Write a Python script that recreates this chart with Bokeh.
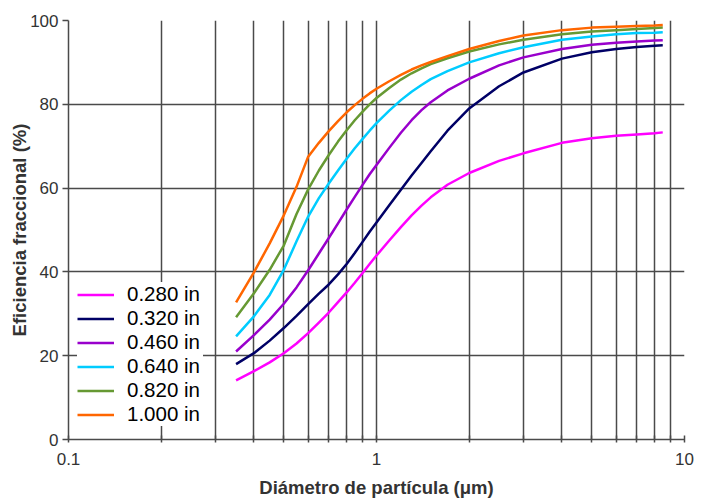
from bokeh.plotting import figure
from bokeh.models import Range1d, FixedTicker, Legend, LegendItem
from bokeh.embed import file_html
from bokeh.resources import INLINE

# ---- data ----
diam = [0.35, 0.4, 0.45, 0.5, 0.55, 0.6, 0.65, 0.7, 0.75, 0.8, 0.85, 0.9, 0.95, 1.0,
        1.1, 1.2, 1.3, 1.4, 1.5, 1.7, 2, 2.5, 3, 4, 5, 6, 7, 8, 8.5]
eff_0280 = [14.1, 16.3, 18.4, 20.6, 22.9, 25.4, 27.9, 30.3, 32.8, 35.1, 37.4, 39.7, 41.9, 43.9,
            47.5, 50.7, 53.5, 55.8, 57.8, 60.8, 63.6, 66.5, 68.3, 70.8, 71.9, 72.5, 72.8, 73.1, 73.3]
eff_0320 = [18.0, 20.6, 23.6, 26.6, 29.5, 32.3, 34.8, 37.0, 39.4, 41.9, 44.5, 47.1, 49.6, 51.8,
            55.9, 59.6, 63.0, 66.0, 68.8, 73.7, 79.0, 84.3, 87.6, 90.9, 92.4, 93.2, 93.7, 94.0, 94.1]
eff_0460 = [21.0, 24.9, 28.6, 32.4, 36.3, 40.4, 44.4, 48.1, 51.6, 54.9, 57.9, 60.7, 63.3, 65.5,
            69.6, 73.2, 76.2, 78.6, 80.5, 83.3, 86.1, 89.3, 91.2, 93.2, 94.2, 94.7, 95.0, 95.2, 95.3]
eff_0640 = [24.6, 29.4, 34.5, 40.5, 47.3, 53.2, 57.6, 61.1, 64.2, 67.0, 69.5, 71.7, 73.7, 75.5,
            78.5, 81.0, 83.0, 84.6, 86.0, 87.9, 90.0, 92.2, 93.6, 95.4, 96.2, 96.7, 97.0, 97.1, 97.2]
eff_0820 = [29.2, 34.9, 40.5, 46.3, 53.8, 59.7, 64.2, 67.9, 71.1, 73.8, 76.2, 78.2, 80.0, 81.5,
            83.9, 85.9, 87.4, 88.6, 89.6, 91.0, 92.6, 94.3, 95.4, 96.7, 97.4, 97.7, 98.0, 98.2, 98.3]
eff_1000 = [32.7, 39.9, 46.8, 53.5, 60.3, 67.5, 70.8, 73.6, 76.0, 78.1, 79.8, 81.3, 82.6, 83.7,
            85.5, 87.0, 88.3, 89.3, 90.1, 91.5, 93.2, 95.1, 96.4, 97.7, 98.3, 98.5, 98.7, 98.8, 98.9]

series_labels = ["0.280 in", "0.320 in", "0.460 in", "0.640 in", "0.820 in", "1.000 in"]
series_values = [eff_0280, eff_0320, eff_0460, eff_0640, eff_0820, eff_1000]
series_colors = ["#FF00FF", "#000066", "#9900CC", "#00CCFF", "#669933", "#FF6600"]

x_major_ticks = [0.1, 1, 10]
x_minor_ticks = [0.2, 0.3, 0.4, 0.5, 0.6, 0.7, 0.8, 0.9, 2, 3, 4, 5, 6, 7, 8, 9]
y_ticks = [0, 20, 40, 60, 80, 100]
x_title = "Diámetro de partícula (μm)"
y_title = "Eficiencia fraccional (%)"

FONT = "Liberation Sans"
GRID = "#4a4a4a"

p = figure(width=714, height=500, x_axis_type="log",
           x_range=Range1d(0.1, 10), y_range=Range1d(0, 100),
           output_backend="svg", toolbar_location=None,
           min_border_left=68, min_border_right=30,
           min_border_top=20, min_border_bottom=60)
p.outline_line_color = None
p.background_fill_color = "white"
p.border_fill_color = "white"

# grids
p.xgrid.ticker = FixedTicker(ticks=x_major_ticks + x_minor_ticks)
p.ygrid.ticker = FixedTicker(ticks=y_ticks)
for g in (p.xgrid, p.ygrid):
    g.grid_line_color = GRID
    g.grid_line_width = 1.5

# x axis
xa = p.xaxis[0]
xa.ticker = FixedTicker(ticks=x_major_ticks, minor_ticks=x_minor_ticks)
xa.major_label_overrides = {0.1: "0.1", 1: "1", 10: "10"}
xa.major_tick_in = 4
xa.major_tick_out = 3
xa.minor_tick_in = 4
xa.minor_tick_out = 3
xa.axis_label = x_title
xa.axis_label_standoff = 9
xa.major_label_standoff = 10

# y axis
ya = p.yaxis[0]
ya.ticker = FixedTicker(ticks=y_ticks)
ya.major_tick_in = 0
ya.major_tick_out = 6
ya.axis_label = y_title
ya.axis_label_standoff = -3
ya.major_label_standoff = 4

for ax in (xa, ya):
    ax.axis_line_color = GRID
    ax.axis_line_width = 1.5
    ax.major_tick_line_color = GRID
    ax.major_tick_line_width = 1.5
    ax.minor_tick_line_color = GRID if ax is xa else None
    ax.minor_tick_line_width = 1.5
    ax.major_label_text_font = FONT
    ax.major_label_text_font_size = "17px"
    ax.major_label_text_color = "#333333"
    ax.axis_label_text_font = FONT
    ax.axis_label_text_font_size = "18.5px"
    ax.axis_label_text_font_style = "bold"
    ax.axis_label_text_color = "#333333"

items = []
for lab, vals, col in zip(series_labels, series_values, series_colors):
    r = p.line(diam, vals, line_color=col, line_width=2.5, line_join="round")
    items.append(LegendItem(label=lab, renderers=[r]))

legend = Legend(items=items, location=(9, 13))
legend.background_fill_color = "white"
legend.background_fill_alpha = 1.0
legend.border_line_color = None
legend.label_text_font = FONT
legend.label_text_font_size = "20.5px"
legend.label_text_color = "black"
legend.glyph_width = 37
legend.glyph_height = 23
legend.label_height = 23
legend.label_width = 76
legend.label_standoff = 13
legend.spacing = 0
legend.padding = 8
legend.margin = 0
p.add_layout(legend, "center")

open("out.html", "w").write(file_html(p, INLINE))
